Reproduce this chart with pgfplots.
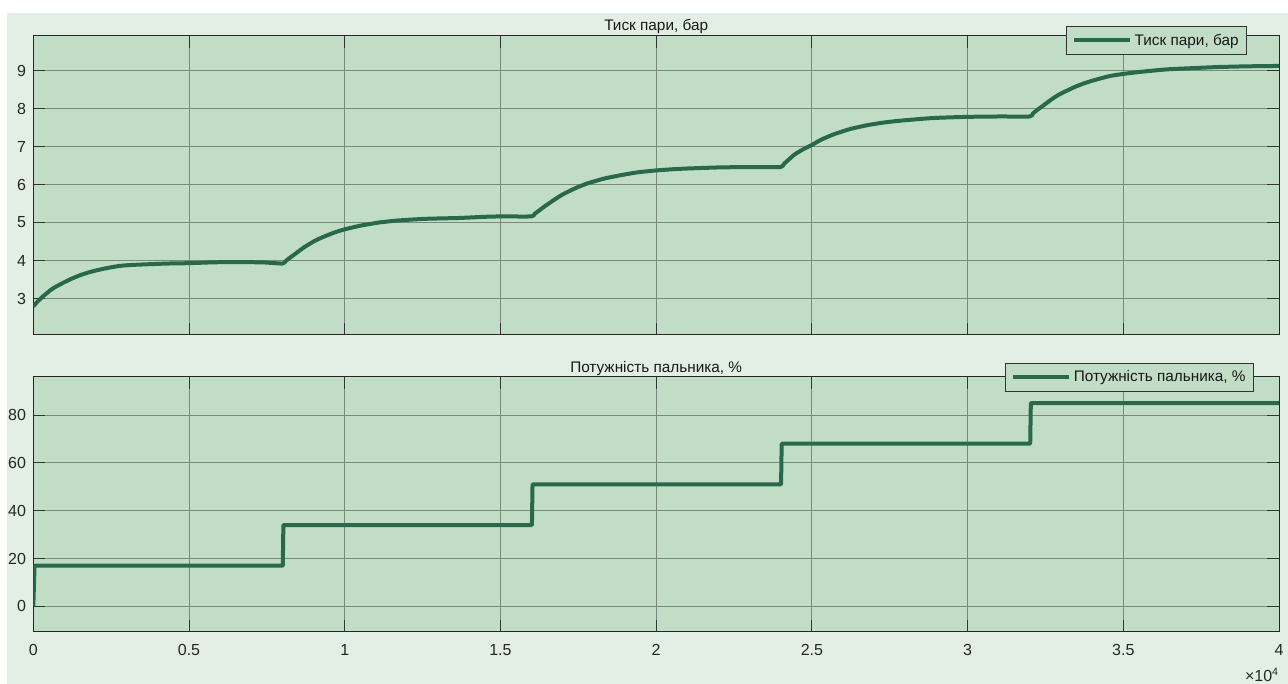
\documentclass[border=0pt]{standalone}
\usepackage{fontspec}
\setmainfont{Liberation Sans}
\usepackage{pgfplots}
\pgfplotsset{compat=1.18}
\definecolor{figbg}{RGB}{227,238,229}
\definecolor{axbg}{RGB}{194,221,198}
\definecolor{ln}{RGB}{40,105,75}
\definecolor{gridc}{RGB}{120,138,124}

\pgfplotstableread{
t v
0 2.79
0.01 2.89
0.02 2.97
0.03 3.05
0.042 3.13
0.055 3.22
0.07 3.30
0.095 3.41
0.12 3.51
0.149 3.61
0.175 3.68
0.202 3.74
0.23 3.79
0.256 3.83
0.28 3.86
0.309 3.88
0.363 3.90
0.43 3.92
0.5 3.93
0.57 3.95
0.63 3.96
0.7 3.955
0.74 3.95
0.80 3.92
0.81 3.98
0.82 4.05
0.832 4.12
0.845 4.20
0.87 4.35
0.898 4.49
0.925 4.60
0.952 4.69
0.975 4.76
1.0 4.82
1.03 4.88
1.059 4.93
1.11 5.00
1.166 5.05
1.22 5.08
1.27 5.10
1.37 5.12
1.45 5.15
1.5 5.16
1.60 5.16
1.61 5.23
1.625 5.32
1.636 5.39
1.648 5.46
1.675 5.61
1.70 5.74
1.74 5.90
1.776 6.02
1.83 6.15
1.883 6.24
1.94 6.32
2.0 6.37
2.05 6.40
2.097 6.42
2.205 6.45
2.31 6.46
2.40 6.46
2.41 6.54
2.425 6.65
2.437 6.74
2.45 6.82
2.475 6.94
2.5 7.04
2.53 7.18
2.57 7.32
2.623 7.46
2.677 7.56
2.73 7.63
2.784 7.68
2.89 7.75
3.0 7.78
3.105 7.79
3.20 7.79
3.21 7.87
3.223 7.96
3.24 8.06
3.266 8.22
3.29 8.35
3.319 8.47
3.345 8.57
3.373 8.66
3.40 8.73
3.426 8.79
3.46 8.86
3.5 8.91
3.55 8.96
3.587 8.99
3.64 9.03
3.69 9.05
3.80 9.09
3.9 9.11
4.0 9.12
}\pressure

\pgfplotstableread{
t v
0 0
0.004 17
0.801 17
0.803 34
1.601 34
1.603 51
2.401 51
2.403 68
3.201 68
3.203 85
4.0 85
}\power

\pgfplotsset{
  myax/.style={
    scale only axis, width=934.3pt, xmin=0, xmax=4,
    axis background/.style={fill=axbg},
    axis line style={color=black!85, line width=0.75pt},
    grid=major, major grid style={color=gridc, line width=0.75pt},
    tick style={color=black!80, line width=0.75pt},
    major tick length=9pt,
    tick align=inside,
    xtick={0,0.5,...,4},
    ticklabel style={font=\fontsize{12}{14}\selectfont, text=black!85},
    /pgf/number format/assume math mode=true,
    yticklabel style={xshift=-2pt},
    xticklabel style={yshift=-6pt},
    title style={font=\fontsize{11.5}{13}\selectfont, text=black!90, at={(0.5,1)}, anchor=base, yshift=-2.5pt},
    legend style={fill=axbg, draw=black!80, line width=0.75pt, font=\fontsize{11.5}{13}\selectfont,
      text=black!90, inner xsep=4pt, inner ysep=3.5pt, anchor=north east},
    legend cell align=left,
    legend image code/.code={\draw[#1, line width=3pt] (0pt,0pt) -- (42pt,0pt);},
  }
}

\begin{document}
\begin{tikzpicture}
\path (0,0) rectangle (966pt,513pt);
\fill[figbg] (5.5pt,0) rectangle (966pt,503.5pt);

\begin{axis}[myax,
  at={(24.98pt,261.75pt)}, anchor=south west,
  height=224.6pt,
  ymin=2.04, ymax=9.92, ytick={3,4,...,9},
  xticklabels={},
  title={Тиск пари, бар},
  legend style={at={(0.9743,1.0317)}},
]
\addplot[ln, line width=3pt, line join=round, smooth, tension=0.3] table[x=t,y=v] {\pressure};
\addlegendentry{Тиск пари, бар}
\end{axis}

\begin{axis}[myax, name=bot,
  at={(24.98pt,39pt)}, anchor=south west,
  height=191.25pt,
  ymin=-10.7, ymax=95.9, ytick={0,20,...,80},
  xticklabels={0,0.5,1,1.5,2,2.5,3,3.5,4},
  title={Потужність пальника, \%},
  legend style={at={(0.980,1.0549)}},
]
\addplot[ln, line width=3pt, line join=round] table[x=t,y=v] {\power};
\addlegendentry{Потужність пальника, \%}
\end{axis}
\node[anchor=base east, font=\fontsize{12}{14}\selectfont, text=black!85, inner sep=0pt, yshift=-37pt] at (bot.south east) {×10\textsuperscript{4}};
\end{tikzpicture}
\end{document}
